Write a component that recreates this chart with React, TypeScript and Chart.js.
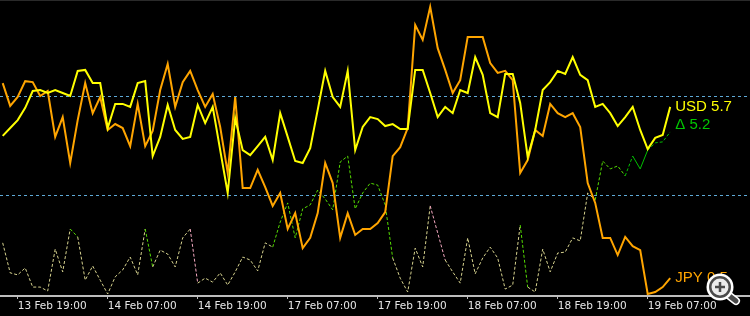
import React, { useEffect, useRef } from 'react';
import { Chart, registerables } from 'chart.js';

Chart.register(...registerables);

// hourly bars, index 0 = 13 Feb 17:00
const usd = [
  4.79, 5.03, 5.27, 5.64, 6.15, 6.18, 6.09, 6.18, 6.09, 6.0,
  6.76, 6.79, 6.39, 6.39, 5.03, 5.76, 5.76, 5.67, 6.39, 6.45,
  4.18, 4.76, 5.73, 4.97, 4.7, 4.76, 5.73, 5.18, 5.67, 4.36,
  3.06, 5.33, 4.36, 4.21, 4.48, 4.76, 4.06, 5.48, 4.76, 4.03,
  3.97, 4.42, 5.58, 6.76, 5.97, 5.67, 6.76, 4.36, 5.06, 5.36,
  5.3, 5.09, 5.15, 5.0, 5.0, 6.79, 6.79, 6.09, 5.36, 5.67,
  5.48, 6.18, 6.09, 7.18, 6.64, 5.48, 5.36, 6.67, 6.67, 5.79,
  4.15, 4.97, 6.18, 6.42, 6.76, 6.67, 7.18, 6.64, 6.48, 5.67,
  5.76, 5.48, 5.09, 5.36, 5.67, 4.97, 4.39, 4.73, 4.82, 5.67,
];

const jpy = [
  6.39, 5.7, 5.97, 6.45, 6.42, 6.0, 6.15, 4.76, 5.36, 3.97,
  5.27, 6.39, 5.48, 5.97, 4.97, 5.15, 5.03, 4.48, 5.76, 4.48,
  4.94, 6.18, 6.97, 5.67, 6.42, 6.76, 6.18, 5.67, 6.06, 5.06,
  3.67, 5.97, 3.21, 3.21, 3.76, 3.24, 2.67, 3.06, 1.97, 2.45,
  1.39, 1.7, 2.45, 3.97, 3.36, 1.7, 2.45, 1.79, 1.97, 1.97,
  2.15, 2.48, 4.18, 4.45, 5.03, 8.15, 7.7, 8.7, 7.45, 6.79,
  6.09, 6.48, 7.79, 7.79, 7.79, 7.0, 6.7, 6.76, 6.48, 3.67,
  4.06, 4.97, 4.79, 5.76, 5.48, 5.36, 5.48, 5.06, 3.36, 2.76,
  1.7, 1.7, 1.18, 1.73, 1.45, 1.33, 0.0, 0.06, 0.21, 0.48,
];

const delta = [
  1.55, 0.64, 0.58, 0.79, 0.21, 0.21, 0.09, 1.36, 0.67, 1.97,
  1.73, 0.42, 0.85, 0.42, 0.0, 0.52, 0.73, 1.12, 0.58, 1.97,
  0.82, 1.33, 1.21, 0.82, 1.7, 1.97, 0.33, 0.48, 0.36, 0.64,
  0.27, 0.67, 1.12, 1.03, 0.7, 1.55, 1.42, 2.18, 2.76, 1.7,
  2.58, 2.7, 3.15, 2.88, 2.55, 4.0, 4.18, 2.58, 3.06, 3.36,
  3.3, 2.7, 1.09, 0.48, 0.06, 1.39, 0.82, 2.67, 1.85, 1.03,
  0.67, 0.33, 1.7, 0.61, 1.09, 1.42, 1.09, 0.15, 0.27, 2.09,
  0.21, 0.06, 1.36, 0.67, 1.24, 1.27, 1.7, 1.61, 3.06, 2.85,
  4.03, 3.79, 3.88, 3.58, 4.18, 3.79, 4.36, 4.58, 4.61, 4.91,
];

const tickIndex = [2, 14, 26, 38, 50, 62, 74, 86];
const tickLabels = [
  '13 Feb 19:00', '14 Feb 07:00', '14 Feb 19:00', '17 Feb 07:00',
  '17 Feb 19:00', '18 Feb 07:00', '18 Feb 19:00', '19 Feb 07:00',
];
const levels = [3, 6];
const usdLabel = 'USD 5.7';
const jpyLabel = 'JPY 0.5';
const deltaLabel = 'Δ 5.2';
const deltaValue = 5.2;

// segment styling for the delta line
const greenSegs = new Set<number>([9, 19, 36, 37, 38, 39, 40, 41, 42, 43, 44, 45, 46, 47, 48, 49, 50, 51, 69, 79, 80, 81, 82, 83, 84, 85, 86, 87, 88]);
const pinkSegs = new Set<number>([25, 57, 58]);
const solidSegs = new Set<number>([84, 85]);

const YELLOW = '#ffff00';
const ORANGE = '#ffa500';
const KHAKI = '#d6d28e';
const LIME = '#55dd00';
const PINK = '#f4a8c0';
const GREEN_TXT = '#00c800';
const LEVEL = '#5ea9d6';

const toPts = (arr: number[]) => arr.map((v, i) => ({ x: i, y: v }));

const bgPlugin = {
  id: 'bgPlugin',
  beforeDraw(chart: any) {
    const { ctx, width, height } = chart;
    ctx.save();
    ctx.fillStyle = '#000000';
    ctx.fillRect(0, 0, width, height);
    ctx.fillStyle = '#2a2a2a';
    ctx.fillRect(0, 0, width, 1);
    ctx.restore();
  },
};

const levelPlugin = {
  id: 'levelPlugin',
  beforeDatasetsDraw(chart: any) {
    const { ctx, chartArea, scales } = chart;
    ctx.save();
    ctx.strokeStyle = LEVEL;
    ctx.lineWidth = 1;
    ctx.setLineDash([3, 3]);
    levels.forEach((v) => {
      const y = Math.round(scales.y.getPixelForValue(v)) + 0.5;
      ctx.beginPath();
      ctx.moveTo(chartArea.left, y);
      ctx.lineTo(chartArea.right, y);
      ctx.stroke();
    });
    ctx.restore();
  },
};

const labelPlugin = {
  id: 'labelPlugin',
  afterDatasetsDraw(chart: any) {
    const { ctx, scales } = chart;
    const usdMeta = chart.getDatasetMeta(0);
    const jpyMeta = chart.getDatasetMeta(1);
    const uLast = usdMeta.data[usdMeta.data.length - 1];
    const jLast = jpyMeta.data[jpyMeta.data.length - 1];
    const x = uLast.x + 5;
    ctx.save();
    ctx.font = '15px "Liberation Sans", Arial, sans-serif';
    ctx.textBaseline = 'middle';
    ctx.textAlign = 'left';
    ctx.fillStyle = YELLOW;
    ctx.fillText(usdLabel, x, uLast.y);
    const dy = Math.max(scales.y.getPixelForValue(deltaValue), uLast.y + 18);
    ctx.fillStyle = GREEN_TXT;
    ctx.fillText(deltaLabel, x, dy);
    ctx.fillStyle = ORANGE;
    ctx.fillText(jpyLabel, jLast.x + 5, jLast.y);
    ctx.restore();
  },
  afterDraw(chart: any) {
    // zoom (magnifier) overlay icon at bottom-right corner
    const { ctx, width, height } = chart;
    const cx = width - 30;
    const cy = height - 29;
    const r = 11;
    ctx.save();
    ctx.lineCap = 'round';
    ctx.strokeStyle = '#ffffff';
    ctx.lineWidth = 8;
    ctx.beginPath();
    ctx.moveTo(cx + 7, cy + 7);
    ctx.lineTo(cx + 16, cy + 14);
    ctx.stroke();
    ctx.strokeStyle = '#4a4a4a';
    ctx.lineWidth = 5;
    ctx.beginPath();
    ctx.moveTo(cx + 7, cy + 7);
    ctx.lineTo(cx + 16, cy + 14);
    ctx.stroke();
    ctx.beginPath();
    ctx.arc(cx, cy, r + 2.5, 0, Math.PI * 2);
    ctx.fillStyle = '#ffffff';
    ctx.fill();
    ctx.beginPath();
    ctx.arc(cx, cy, r, 0, Math.PI * 2);
    ctx.fillStyle = '#4a4a4a';
    ctx.fill();
    ctx.beginPath();
    ctx.arc(cx, cy, r - 2.5, 0, Math.PI * 2);
    ctx.fillStyle = '#ececec';
    ctx.fill();
    ctx.strokeStyle = '#4a4a4a';
    ctx.lineWidth = 2.5;
    ctx.lineCap = 'butt';
    ctx.beginPath();
    ctx.moveTo(cx - 5, cy);
    ctx.lineTo(cx + 5, cy);
    ctx.moveTo(cx, cy - 5);
    ctx.lineTo(cx, cy + 5);
    ctx.stroke();
    ctx.restore();
  },
};

export default function App() {
  const ref = useRef<HTMLCanvasElement | null>(null);

  useEffect(() => {
    document.body.style.margin = '0';
    document.body.style.background = '#000';
    const canvas = ref.current;
    if (!canvas) return;
    const chart = new Chart(canvas, {
      type: 'line',
      data: {
        datasets: [
          {
            label: 'USD',
            data: toPts(usd),
            borderColor: YELLOW,
            borderWidth: 2,
            pointRadius: 0,
            tension: 0,
            fill: false,
          },
          {
            label: 'JPY',
            data: toPts(jpy),
            borderColor: ORANGE,
            borderWidth: 2,
            pointRadius: 0,
            tension: 0,
            fill: false,
          },
          {
            label: 'Δ',
            data: toPts(delta),
            borderColor: KHAKI,
            borderWidth: 1,
            borderDash: [3, 2],
            pointRadius: 0,
            tension: 0,
            fill: false,
            segment: {
              borderColor: (c: any) =>
                pinkSegs.has(c.p0DataIndex) ? PINK : greenSegs.has(c.p0DataIndex) ? (c.p0DataIndex >= 83 ? '#00c000' : LIME) : KHAKI,
              borderDash: (c: any) => (solidSegs.has(c.p0DataIndex) ? [] : [3, 2]),
            },
          },
        ],
      },
      options: {
        animation: false,
        responsive: false,
        maintainAspectRatio: false,
        devicePixelRatio: 1,
        layout: { padding: { top: 2, left: 0, right: 0, bottom: 0 } },
        plugins: {
          legend: { display: false },
          tooltip: { enabled: false },
          title: { display: false },
        },
        events: [],
        scales: {
          x: {
            type: 'linear',
            min: -0.36,
            max: 99.64,
            afterBuildTicks: (scale: any) => {
              scale.ticks = tickIndex.map((v) => ({ value: v }));
            },
            afterFit: (scale: any) => {
              scale.height = 20;
            },
            grid: {
              display: true,
              drawOnChartArea: false,
              drawTicks: true,
              tickLength: 3,
              color: '#bdbdbd',
              lineWidth: 1,
            },
            border: { display: true, color: '#bdbdbd', width: 2 },
            ticks: {
              align: 'start',
              autoSkip: false,
              maxRotation: 0,
              minRotation: 0,
              padding: 1,
              color: '#e6e6e6',
              font: { family: '"DejaVu Sans", Verdana, sans-serif', size: 10.5 },
              callback: (v: any) => {
                const k = tickIndex.indexOf(Number(v));
                return k >= 0 ? tickLabels[k] : '';
              },
            },
          },
          y: {
            type: 'linear',
            display: false,
            min: -0.0606,
            max: 8.848,
          },
        },
      },
      plugins: [bgPlugin, levelPlugin, labelPlugin],
    });
    return () => chart.destroy();
  }, []);

  return (
    <div style={{ width: 750, height: 316, background: '#000' }}>
      <canvas ref={ref} width={750} height={316} style={{ display: 'block', width: 750, height: 316 }} />
    </div>
  );
}
